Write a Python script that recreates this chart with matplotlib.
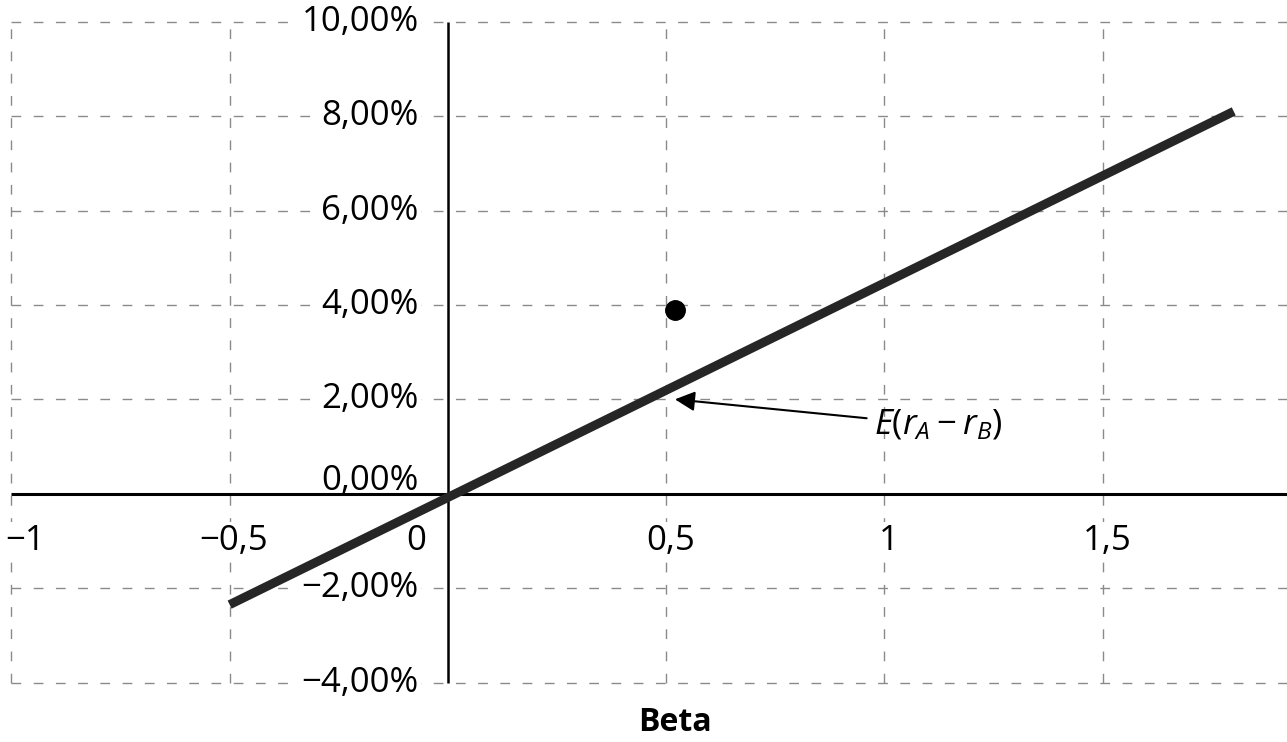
import matplotlib
matplotlib.use('Agg')
import matplotlib.pyplot as plt
import matplotlib.transforms as mtransforms

plt.rcParams['font.family'] = ['Open Sans', 'DejaVu Sans']
plt.rcParams['mathtext.fontset'] = 'custom'
plt.rcParams['mathtext.rm'] = 'Open Sans'
plt.rcParams['mathtext.it'] = 'Open Sans:italic'

# values (returns in %)
beta_line = [-0.5, 1.8]
excess_line = [-2.35, 8.1]
point_beta = [0.52]
point_excess = [3.9]
x_ticks = [-1, -0.5, 0, 0.5, 1, 1.5, 2]
x_labels = ['−1', '−0,5', '0', '0,5', '1', '1,5', '2']
y_ticks = [10, 8, 6, 4, 2, 0, -2, -4]
y_labels = ['10,00%', '8,00%', '6,00%', '4,00%', '2,00%', '0,00%', '−2,00%', '−4,00%']
arrow_tip = (0.52, 2.0)
label_pos = (0.975, 1.45)

fig = plt.figure(figsize=(12.87, 7.42), dpi=100)
ax = fig.add_axes([0, 0, 1, 1])
ax.set_xlim(-1.026, 1.922)
ax.set_ylim(-5.26, 10.46)
ax.axis('off')


def shifted(dx, dy):
    # offset in points from a data position
    return ax.transData + mtransforms.ScaledTranslation(dx / 72, dy / 72, fig.dpi_scale_trans)


grid_kw = dict(color='#8a8a8a', lw=1.0, linestyle=(0, (7, 9)), zorder=1)
for b in x_ticks:
    if b != 0:
        ax.vlines(b, y_ticks[-1], y_ticks[0], **grid_kw)
for v in y_ticks:
    if v != 0:
        ax.hlines(v, x_ticks[0], x_ticks[-1], **grid_kw)

# axis lines through the origin
ax.vlines(0, y_ticks[-1], y_ticks[0], color='black', lw=1.8, zorder=3)
ax.hlines(0, x_ticks[0], x_ticks[-1], color='black', lw=2.2, zorder=3)

box = dict(fc='white', ec='none', pad=1.5)
for v, lab in zip(y_ticks, y_labels):
    dy = 9 if v == 0 else 0
    ax.text(0, v, lab, transform=shifted(-21, dy), ha='right', va='center',
            fontsize=25, bbox=box, zorder=2)
for b, lab in zip(x_ticks, x_labels):
    if b == 0:
        ax.text(b, 0, lab, transform=shifted(-16, -34), ha='right', va='center',
                fontsize=25, bbox=box, zorder=2)
    else:
        dx = 10 if b == x_ticks[0] else 3  # leftmost label sits clear of the edge
        ax.text(b, 0, lab, transform=shifted(dx, -34), ha='center', va='center',
                fontsize=25, bbox=box, zorder=2)

ax.plot(beta_line, excess_line, color='#262626', lw=6.5, solid_capstyle='butt', zorder=4)
ax.plot(point_beta, point_excess, 'o', color='black', ms=14, zorder=5)

ax.annotate(r'$E(r_A - r_B)$', xy=arrow_tip, xytext=label_pos, fontsize=25,
            ha='left', va='center', zorder=5,
            arrowprops=dict(arrowstyle='-|>', color='black', lw=1.5,
                            mutation_scale=30, shrinkA=3, shrinkB=0))

ax.text(0.52, -4.84, 'Beta', fontsize=23, fontweight='bold', ha='center', va='center')

fig.savefig('out.png', dpi=100)
